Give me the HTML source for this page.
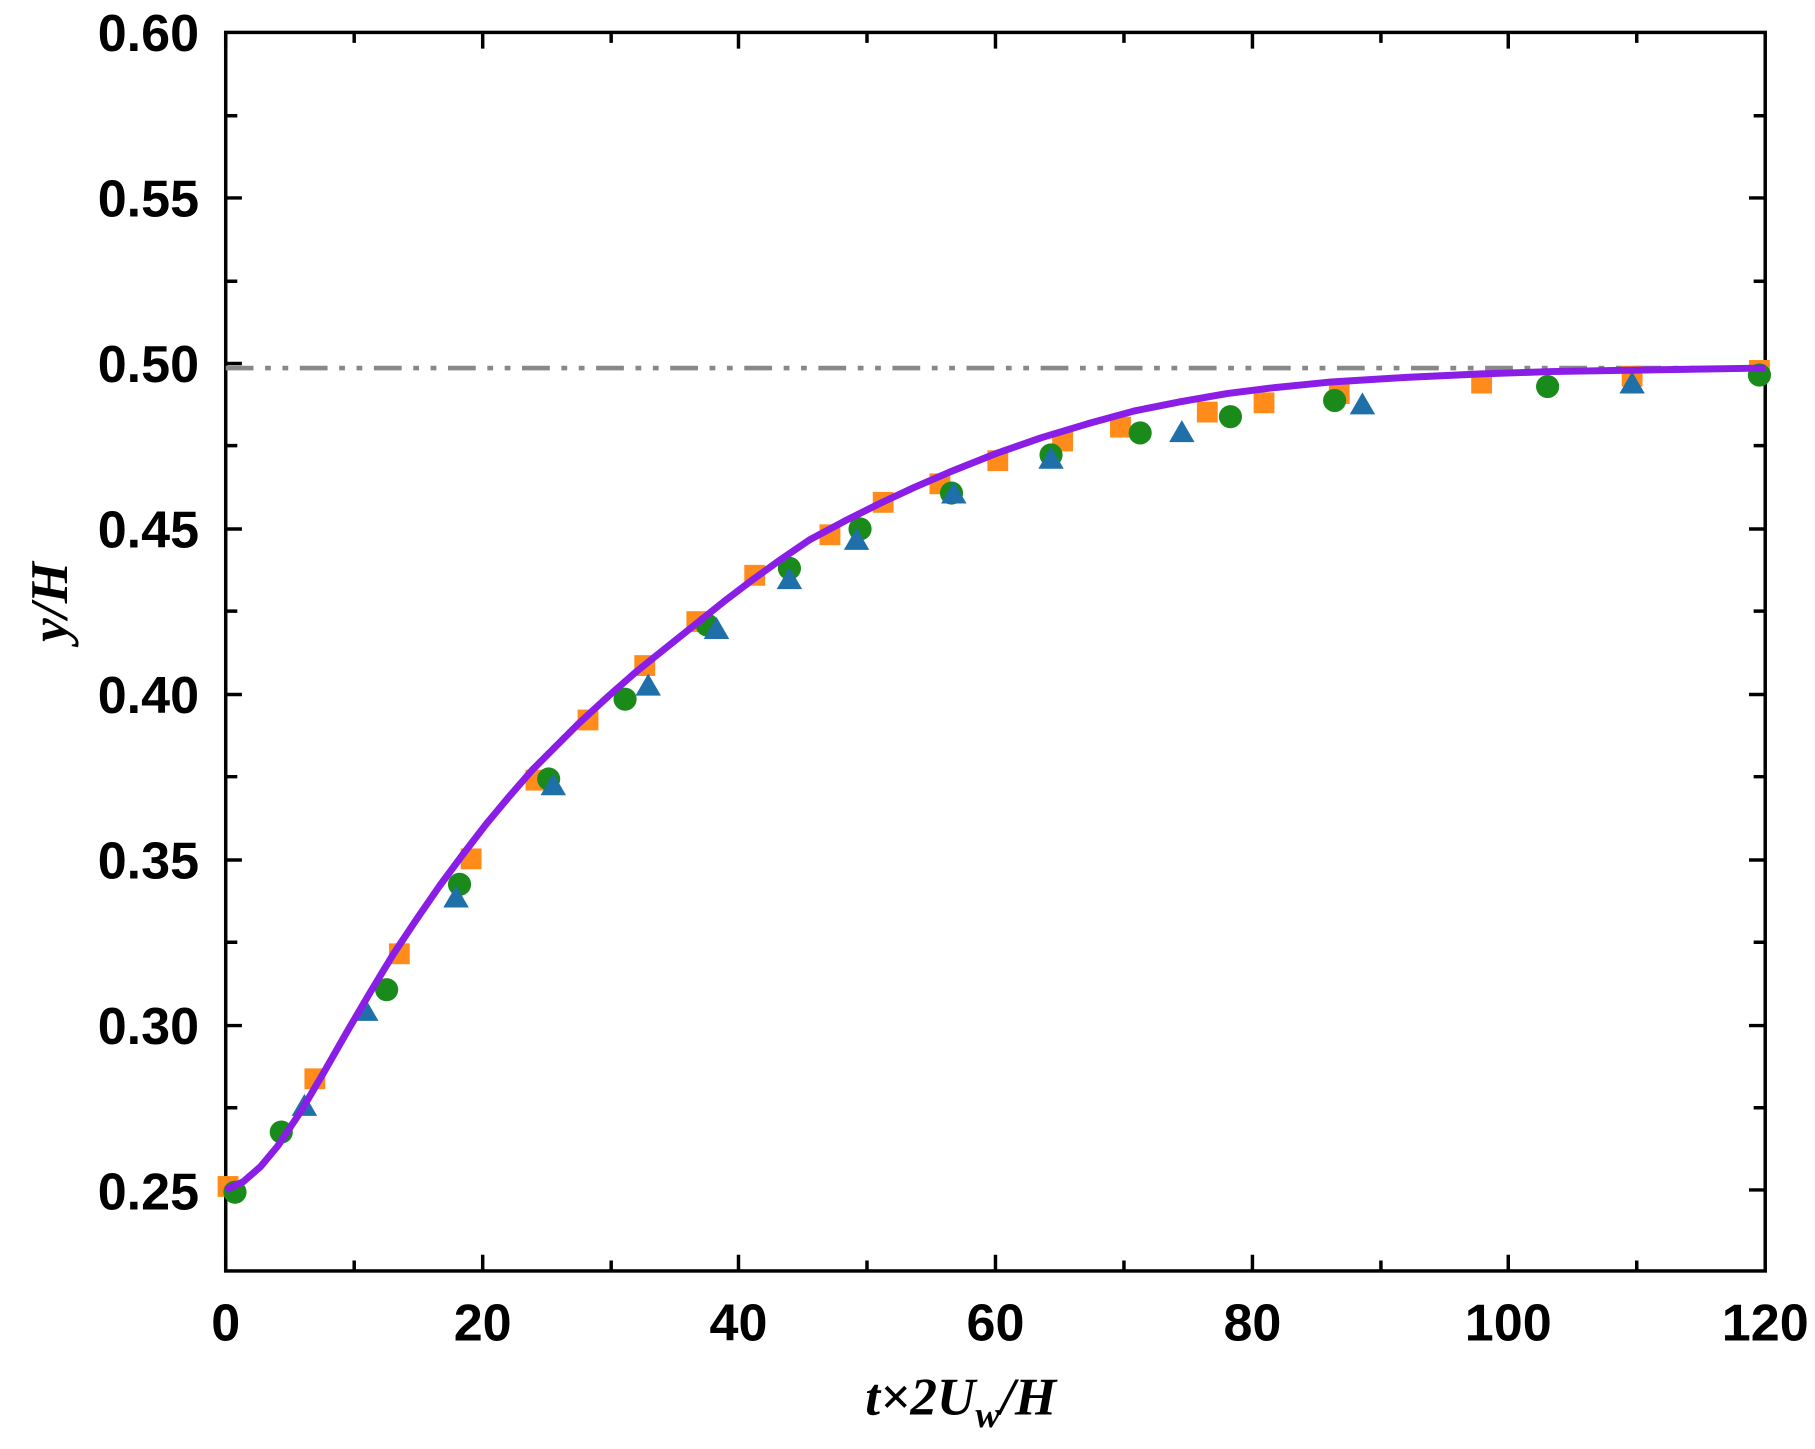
<!DOCTYPE html>
<html><head><style>html,body{margin:0;padding:0;background:#fff}</style></head><body>
<svg width="1815" height="1444" viewBox="0 0 1568 1247.5" preserveAspectRatio="none" xmlns="http://www.w3.org/2000/svg">
<g font-family="Liberation Sans, sans-serif" font-weight="bold" font-size="45" fill="#000">
<text x="172" y="44" text-anchor="end">0.60</text>
<text x="172" y="187" text-anchor="end">0.55</text>
<text x="172" y="330" text-anchor="end">0.50</text>
<text x="172" y="473" text-anchor="end">0.45</text>
<text x="172" y="616" text-anchor="end">0.40</text>
<text x="172" y="759" text-anchor="end">0.35</text>
<text x="172" y="902" text-anchor="end">0.30</text>
<text x="172" y="1045" text-anchor="end">0.25</text>
<text x="195" y="1158" text-anchor="middle">0</text>
<text x="417" y="1158" text-anchor="middle">20</text>
<text x="638" y="1158" text-anchor="middle">40</text>
<text x="860" y="1158" text-anchor="middle">60</text>
<text x="1082" y="1158" text-anchor="middle">80</text>
<text x="1303" y="1158" text-anchor="middle">100</text>
<text x="1525" y="1158" text-anchor="middle">120</text>
</g>
<text transform="translate(58,520) rotate(-90)" text-anchor="middle" font-family="Liberation Serif, serif" font-style="italic" font-weight="bold" font-size="46">y/H</text>
<text x="830" y="1222" text-anchor="middle" font-family="Liberation Serif, serif" font-style="italic" font-weight="bold" font-size="46">t×2U<tspan font-size="32" dy="11">w</tspan><tspan dy="-11">/H</tspan></text>
<g stroke="#000" stroke-width="3" fill="none">
<rect x="195" y="28" width="1330" height="1070"/>
<path d="M195,1098v-14M306,1098v-9M417,1098v-14M528,1098v-9M638,1098v-14M749,1098v-9M860,1098v-14M971,1098v-9M1082,1098v-14M1193,1098v-9M1303,1098v-14M1414,1098v-9
M195,28v14M306,28v9M417,28v14M528,28v9M638,28v14M749,28v9M860,28v14M971,28v9M1082,28v14M1193,28v9M1303,28v14M1414,28v9
M195,171h14M195,100h10M195,314h14M195,243h10M195,457h14M195,385h10M195,600h14M195,528h10M195,743h14M195,671h10M195,886h14M195,814h10M195,1028h14M195,957h10
M1525,171h-14M1525,100h-10M1525,314h-14M1525,243h-10M1525,457h-14M1525,385h-10M1525,600h-14M1525,528h-10M1525,743h-14M1525,671h-10M1525,886h-14M1525,814h-10M1525,1028h-14M1525,957h-10"/>
</g>
<line x1="195" y1="318" x2="1525" y2="318" stroke="#888" stroke-width="4" stroke-dasharray="24,10,5,10,5,10"/>
<g fill="#ff8c1a">
<rect x="188" y="1016" width="18" height="18"/><rect x="263" y="923" width="18" height="18"/><rect x="336" y="815" width="18" height="18"/><rect x="398" y="733" width="18" height="18"/><rect x="454" y="665" width="18" height="18"/><rect x="499" y="613" width="18" height="18"/><rect x="548" y="566" width="18" height="18"/><rect x="593" y="528" width="18" height="18"/><rect x="643" y="488" width="18" height="18"/><rect x="708" y="453" width="18" height="18"/><rect x="754" y="425" width="18" height="18"/><rect x="803" y="409" width="18" height="18"/><rect x="853" y="389" width="18" height="18"/><rect x="909" y="372" width="18" height="18"/><rect x="959" y="360" width="18" height="18"/><rect x="1034" y="347" width="18" height="18"/><rect x="1083" y="339" width="18" height="18"/><rect x="1148" y="331" width="18" height="18"/><rect x="1271" y="322" width="18" height="18"/><rect x="1401" y="316" width="18" height="18"/><rect x="1511" y="311" width="18" height="18"/>
</g>
<g fill="#1a8a1a">
<circle cx="203" cy="1030" r="10"/><circle cx="243" cy="978" r="10"/><circle cx="334" cy="855" r="10"/><circle cx="397" cy="764" r="10"/><circle cx="474" cy="673" r="10"/><circle cx="540" cy="604" r="10"/><circle cx="611" cy="540" r="10"/><circle cx="682" cy="491" r="10"/><circle cx="743" cy="457" r="10"/><circle cx="822" cy="426" r="10"/><circle cx="908" cy="393" r="10"/><circle cx="985" cy="374" r="10"/><circle cx="1063" cy="360" r="10"/><circle cx="1153" cy="346" r="10"/><circle cx="1337" cy="334" r="10"/><circle cx="1520" cy="324" r="10"/>
</g>
<g fill="#1f6fa8">
<path d="M263,945l11,19h-22z"/><path d="M316,863l11,19h-22z"/><path d="M394,765l11,19h-22z"/><path d="M478,668l11,19h-22z"/><path d="M560,582l11,19h-22z"/><path d="M619,533l11,19h-22z"/><path d="M682,490l11,19h-22z"/><path d="M740,456l11,19h-22z"/><path d="M824,416l11,19h-22z"/><path d="M908,386l11,19h-22z"/><path d="M1021,363l11,19h-22z"/><path d="M1177,339l11,19h-22z"/><path d="M1410,321l11,19h-22z"/>
</g>
<polyline points="195,1028 210,1021 225,1008 240,990 260,960 280,926 300,891 320,857 340,824 360,794 380,765 400,738 420,712 440,688 460,665 480,645 500,625 525,602 550,580 575,560 600,540 625,520 650,501 675,483 700,466 730,450 760,435 790,421 820,408 860,392 900,378 940,366 980,355 1020,347 1060,340 1100,335 1150,330 1215,326 1280,323 1340,321 1400,320 1460,319 1525,318" fill="none" stroke="#8a1ee6" stroke-width="6" stroke-linejoin="round"/>
</svg>
</body></html>
